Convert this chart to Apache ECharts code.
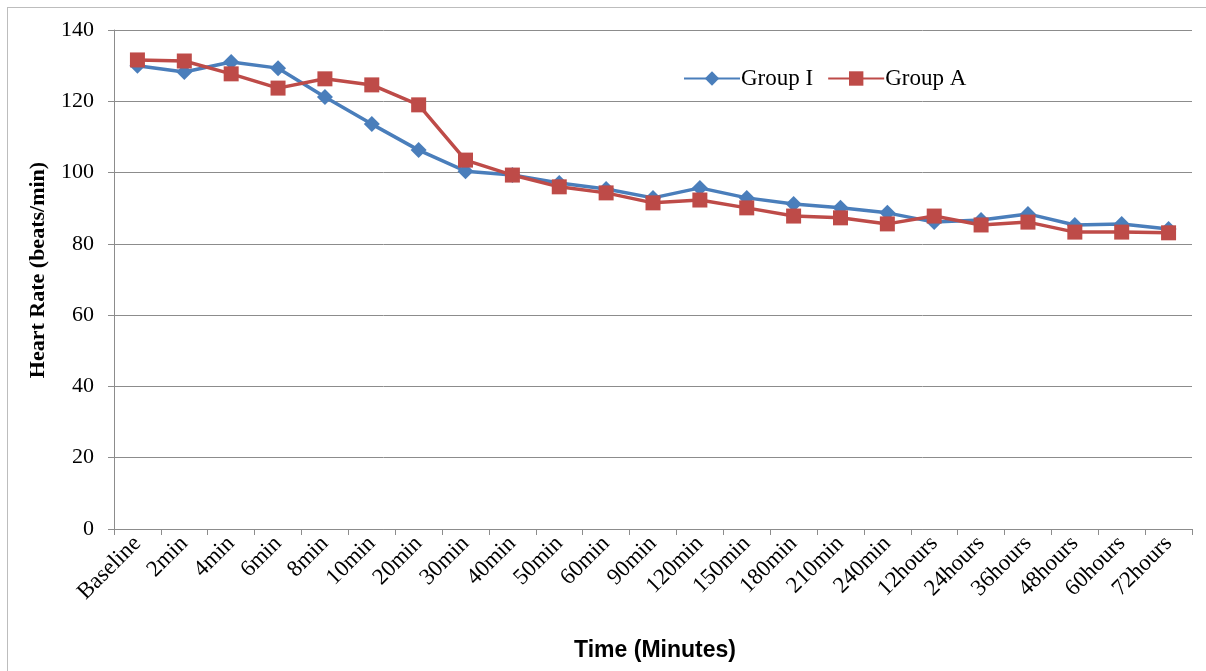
<!DOCTYPE html>
<html><head><meta charset="utf-8">
<script src="https://cdn.jsdelivr.net/npm/echarts@6/dist/echarts.min.js"></script>
<style>
html,body{margin:0;padding:0;background:#fff;}
#frame{position:absolute;left:7px;top:7px;width:1210px;height:680px;border:1px solid #bdbdbd;}
#main{position:absolute;left:0;top:0;width:1206px;height:671px;}
</style></head>
<body><div id="frame"></div><div id="main"></div>
<script>
const categories = ["Baseline","2min","4min","6min","8min","10min","20min","30min","40min","50min","60min","90min","120min","150min","180min","210min","240min","12hours","24hours","36hours","48hours","60hours","72hours"];
const groupI = [130,128.2,131,129.3,121.2,113.6,106.3,100.4,99.3,97.1,95.4,92.9,95.7,92.9,91.2,90.1,88.7,86.1,86.7,88.4,85.3,85.6,84.2];
const groupA = [131.6,131.3,127.7,123.7,126.3,124.6,119,103.5,99.3,96,94.3,91.5,92.3,90.1,87.8,87.3,85.6,87.8,85.3,86.1,83.3,83.3,83.1];
const yTicks = [0,20,40,60,80,100,120,140];
const xTitle = 'Time (Minutes)';
const yTitle = 'Heart Rate (beats/min)';

const chart = echarts.init(document.getElementById('main'));
chart.setOption({
  animation:false,
  backgroundColor:'transparent',
  grid:{left:114,right:14,top:30,bottom:142},
  legend:{
    left:678, top:62, itemWidth:56, itemHeight:18, itemGap:14,
    textStyle:{fontFamily:'Liberation Serif',fontSize:23,color:'#000',padding:[0,0,0,-4]},
    data:['Group I','Group A']
  },
  graphic:[
    {type:'text',x:38,y:270,rotation:Math.PI/2,
     style:{text:yTitle,fontFamily:'Liberation Serif',fontWeight:'bold',fontSize:22,fill:'#000',
            textAlign:'center',textVerticalAlign:'middle'}},
    {type:'text',x:655,y:651,
     style:{text:xTitle,fontFamily:'Liberation Sans',fontWeight:'bold',fontSize:23,fill:'#000',
            textAlign:'center',textVerticalAlign:'middle'}}
  ],
  xAxis:{
    type:'category', data:categories, boundaryGap:true,
    axisLine:{lineStyle:{color:'#8c8c8c',width:1}},
    axisTick:{show:true,alignWithLabel:false,length:6,lineStyle:{color:'#8c8c8c'}},
    axisLabel:{rotate:45,interval:0,fontFamily:'Liberation Serif',fontSize:23,color:'#000',margin:11}
  },
  yAxis:{
    type:'value', min:yTicks[0], max:yTicks[yTicks.length-1], interval:20,
    axisLine:{show:true,lineStyle:{color:'#8c8c8c'}},
    axisTick:{show:true,length:6,lineStyle:{color:'#8c8c8c'}},
    splitLine:{lineStyle:{color:'#8c8c8c',width:1}},
    axisLabel:{fontFamily:'Liberation Serif',fontSize:22,color:'#000',margin:20}
  },
  series:[
    {name:'Group I',type:'line',data:groupI,symbol:'diamond',symbolSize:16,
     lineStyle:{color:'#4a7ebb',width:3.5},itemStyle:{color:'#4a7ebb'}},
    {name:'Group A',type:'line',data:groupA,symbol:'rect',symbolSize:15,
     lineStyle:{color:'#be4b48',width:3.5},itemStyle:{color:'#be4b48'}}
  ]
});
</script></body></html>
